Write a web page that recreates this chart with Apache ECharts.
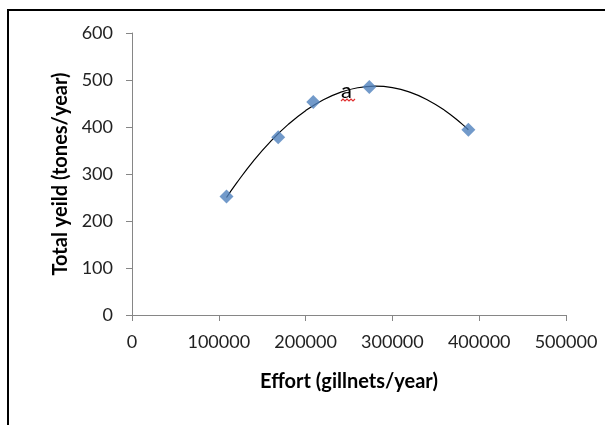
<!DOCTYPE html>
<html>
<head>
<meta charset="utf-8">
<script src="https://cdn.jsdelivr.net/npm/echarts@6/dist/echarts.min.js"></script>
<style>
html,body{margin:0;padding:0;background:#fff;}
#chart{width:605px;height:425px;}
</style>
</head>
<body>
<div id="chart"></div>
<script>
// Observed data points (effort, yield)
var effort = [108900, 168400, 208800, 273400, 387500];
var yieldVals = [252, 378, 453, 485, 394];
// Trend curve (polynomial trendline)
var curveX = [108900, 120000, 140000, 160000, 180000, 200000, 220000, 240000, 260000, 280000, 300000, 320000, 340000, 360000, 380000, 387500];
var curveY = [250, 279.5, 328, 370, 405.6, 434.8, 457.5, 473.7, 483.5, 486.8, 483.7, 474.1, 458.1, 435.6, 406.7, 394.1];
// Axis ticks
var xTicks = [0, 100000, 200000, 300000, 400000, 500000];
var yTicks = [0, 100, 200, 300, 400, 500, 600];

var pts = effort.map(function (x, i) { return [x, yieldVals[i]]; });
var curve = curveX.map(function (x, i) { return [x, curveY[i]]; });

var chart = echarts.init(document.getElementById('chart'), null, {renderer: 'canvas'});
var font = 'Lato, "Open Sans", sans-serif';
chart.setOption({
  animation: false,
  backgroundColor: '#fff',
  grid: {left: 132, right: 39, top: 33, bottom: 110, containLabel: false},
  xAxis: {
    type: 'value',
    min: xTicks[0], max: xTicks[xTicks.length - 1], interval: 100000,
    name: 'Effort (gillnets/year)',
    nameLocation: 'middle', nameGap: 67,
    nameTextStyle: {fontFamily: font, fontSize: 20, fontWeight: 'bold', color: '#000', verticalAlign: 'middle'},
    axisLine: {show: true, lineStyle: {color: '#868686', width: 1}},
    axisTick: {show: true, length: 6, inside: false, lineStyle: {color: '#868686'}},
    axisLabel: {fontFamily: font, fontSize: 18, color: '#222', margin: 18, showMinLabel: true, showMaxLabel: true,
      formatter: function (v) { return String(v); }},
    splitLine: {show: false}
  },
  yAxis: {
    type: 'value',
    min: yTicks[0], max: yTicks[yTicks.length - 1], interval: 100,
    name: 'Total yeild (tones/year)',
    nameLocation: 'middle', nameGap: 69, nameRotate: 90,
    nameTextStyle: {fontFamily: font, fontSize: 20, fontWeight: 'bold', color: '#000', verticalAlign: 'middle'},
    axisLine: {show: true, lineStyle: {color: '#868686', width: 1}},
    axisTick: {show: true, length: 6, inside: false, lineStyle: {color: '#868686'}},
    axisLabel: {fontFamily: font, fontSize: 18, color: '#222', margin: 19,
      formatter: function (v) { return String(v); }},
    splitLine: {show: false}
  },
  series: [
    {
      type: 'line', data: curve, smooth: true, showSymbol: false, symbol: 'none',
      lineStyle: {color: '#000', width: 1.2}, z: 2, silent: true
    },
    {
      type: 'scatter', data: pts, symbol: 'diamond', symbolSize: [14, 14],
      itemStyle: {color: '#4F81BD'}, z: 3
    }
  ],
  graphic: [
    {type: 'line', shape: {x1: 7, y1: 10, x2: 605, y2: 10}, style: {stroke: '#000', lineWidth: 2}},
    {type: 'line', shape: {x1: 8, y1: 9, x2: 8, y2: 425}, style: {stroke: '#000', lineWidth: 2}},
    {type: 'text', left: 341, top: 80, style: {text: 'a', fontFamily: font, fontSize: 22, fill: '#000'}, z: 10},
    {type: 'polyline', shape: {points: [[341,101],[343,99],[345,101],[347,99],[349,101],[351,99],[353,101],[355,99]]}, style: {stroke: '#E03030', lineWidth: 1.2, fill: null}, z: 10}
  ]
});
</script>
</body>
</html>
